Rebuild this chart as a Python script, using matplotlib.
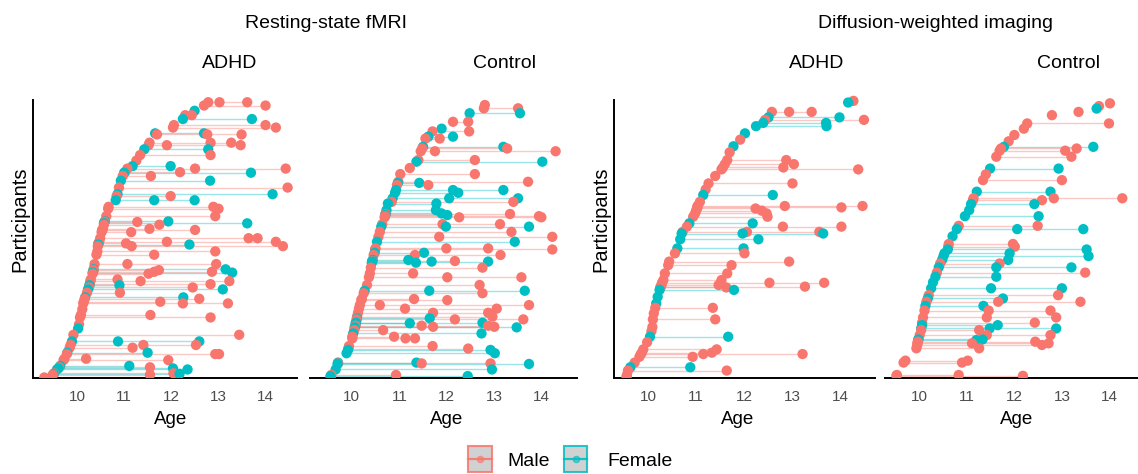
import numpy as np
import matplotlib
matplotlib.use("Agg")
import matplotlib.pyplot as plt
from matplotlib.collections import LineCollection
from matplotlib.patches import Rectangle

plt.rcParams['font.family'] = ['Liberation Sans', 'DejaVu Sans']
nan = float('nan')

MALE_COLOR = '#F8766D'
FEMALE_COLOR = '#00BFC4'

age_ticks = [10, 11, 12, 13, 14]
age_labels = ['10', '11', '12', '13', '14']
group_titles = ['Resting-state fMRI', 'Diffusion-weighted imaging']
panel_titles = ['ADHD', 'Control', 'ADHD', 'Control']
sex_labels = ['Male', 'Female']

# ---------------- Panel 1: Resting-state fMRI, ADHD ----------------
p1_rank = [100.2, 99.0, 97.1, 95.5, 94.1, 91.9, 91.0, 88.9, 88.5, 85.5,
           84.6, 83.1, 81.0, 79.0, 77.0, 76.1, 74.8, 74.6, 73.4, 71.7,
           69.2, 66.8, 66.1, 64.6, 62.2, 61.5, 58.8, 56.9, 56.7, 56.2,
           55.7, 54.2, 53.8, 53.0, 50.8, 49.5, 48.9, 48.5, 47.9, 46.0,
           44.8, 41.4, 39.5, 39.2, 38.6, 38.3, 37.9, 35.8, 35.2, 34.1,
           33.7, 32.9, 32.2, 31.0, 29.3, 28.8, 27.7, 27.1, 25.0, 22.9,
           22.0, 19.5, 18.0, 15.7, 13.3, 12.0, 11.0, 9.2, 8.7, 7.0,
           6.5, 4.4, 3.9, 3.5, 3.1, 1.7, 1.5, 1.2, 0.2]
p1_base = [12.79, 12.70, 12.50, 12.30, 12.25, 12.06, 12.04, 11.66, 11.70, 11.54,
           11.52, 11.43, 11.34, 11.26, 11.18, 11.07, 11.02, 11.00, 10.97, 10.93,
           10.89, 10.86, 10.84, 10.82, 10.67, 10.66, 10.62, 10.59, 10.58, 10.57,
           10.57, 10.55, 10.53, 10.52, 10.49, 10.47, 10.45, 10.45, 10.44, 10.43,
           10.41, 10.37, 10.35, 10.35, 10.34, 10.33, 10.33, 10.29, 10.28, 10.27,
           10.26, 10.25, 10.23, 10.21, 10.17, 10.16, 10.14, 10.13, 10.11, 10.08,
           10.06, 10.04, 10.02, 9.92, 9.89, 9.86, 9.84, 9.79, 9.78, 9.73,
           9.71, 9.64, 9.62, 9.60, 9.57, 9.51, 9.50, 9.48, 9.30]
p1_fu1 = [13.03, 14.01, nan, 12.44, 13.72, 14.01, 14.23, 12.70, 12.77, 12.84,
          11.91, 12.79, 12.84, nan, 11.99, 12.51, 12.19, 13.70, 11.57, 12.83,
          14.48, 14.16, 11.99, 11.64, 12.90, 13.01, 12.94, 11.94, 11.28, 13.62,
          11.75, 11.54, 12.51, 11.15, 13.65, 11.91, 11.04, 12.39, 11.16, 12.94,
          11.64, 11.07, 13.16, 11.74, 11.64, 13.30, 11.52, 10.86, 11.35, 12.84,
          10.90, 12.46, 13.10, 10.91, 12.26, 12.60, 11.77, 12.25, nan, 11.56,
          12.84, nan, nan, 13.45, 10.87, 11.41, 11.18, 11.50, 12.94, 10.19,
          11.94, 11.11, 11.55, 12.04, 12.35, 12.05, 12.18, 11.55, nan]
p1_fu2 = [13.62, nan, nan, nan, nan, nan, nan, nan, 13.50, 13.28,
          13.48, nan, nan, nan, nan, 14.44, nan, nan, nan, nan,
          nan, nan, nan, 12.50, nan, nan, nan, nan, nan, nan,
          nan, nan, nan, nan, 13.84, 14.23, nan, nan, 14.38, nan,
          nan, 12.96, nan, nan, 12.87, nan, nan, nan, 13.24, nan,
          nan, nan, nan, nan, nan, nan, nan, 13.21, nan, nan,
          nan, nan, nan, nan, 12.60, 12.53, nan, nan, 13.02, nan,
          nan, nan, nan, nan, nan, nan, nan, nan, nan]
p1_sex = list("MMFMFMMFMM" "MFMMFMMFMF" "MFMFMMMFMF" "MMMMMMMFMM"
              "MMFMMFMMMM" "FMFMFMMMMM" "MMFMFMMFMM" "MFMFFMFMM")

# ---------------- Panel 2: Resting-state fMRI, Control ----------------
p2_rank = [99.2, 98.0, 96.2, 93.1, 90.6, 89.6, 87.7, 87.0, 84.0, 83.4,
           82.4, 79.2, 78.6, 76.3, 74.1, 71.3, 70.9, 70.1, 68.3, 67.3,
           65.3, 64.0, 63.4, 61.0, 59.8, 59.6, 59.2, 58.8, 58.4, 55.9,
           55.0, 53.1, 51.3, 49.5, 47.1, 46.7, 45.5, 44.7, 42.9, 42.5,
           42.3, 41.9, 40.1, 38.0, 36.6, 33.8, 31.7, 30.8, 28.7, 28.3,
           26.5, 25.2, 23.7, 22.3, 21.7, 21.3, 20.1, 19.9, 19.0, 18.6,
           18.4, 17.4, 16.2, 15.0, 14.4, 11.6, 10.7, 10.2, 9.0, 5.6,
           5.3, 5.1, 3.1, 1.1, 0.7]
p2_base = [12.80, 12.78, 12.48, 12.13, 11.89, 11.70, 11.61, 11.55, 11.50, 11.48,
           11.45, 11.40, 11.36, 11.22, 11.02, 10.98, 10.97, 10.95, 10.93, 10.91,
           10.86, 10.84, 10.76, 10.73, 10.72, 10.71, 10.70, 10.70, 10.69, 10.64,
           10.62, 10.59, 10.56, 10.53, 10.50, 10.49, 10.48, 10.46, 10.44, 10.43,
           10.43, 10.42, 10.40, 10.38, 10.36, 10.32, 10.27, 10.25, 10.21, 10.20,
           10.17, 10.15, 10.13, 10.11, 10.11, 10.10, 10.09, 10.08, 10.08, 10.07,
           10.06, 10.05, 10.03, 10.01, 10.01, 9.94, 9.93, 9.92, 9.89, 9.71,
           9.71, 9.70, 9.66, 9.57, 9.55]
p2_fu1 = [nan, 13.50, 13.54, 12.45, nan, 12.47, 12.13, 11.85, 13.19, 13.27,
          11.75, 12.59, 14.01, nan, 12.59, 13.71, 11.42, 11.61, 12.13, 12.24,
          12.05, 13.40, 11.78, 11.77, 11.89, 13.33, 12.01, 13.94, 12.26, 11.91,
          11.98, 13.36, 11.84, 13.43, 11.99, 14.22, 11.52, 11.33, 11.19, 12.17,
          11.68, 11.35, 12.75, 11.29, 12.01, 12.69, 11.63, 12.75, 11.31, 12.01,
          10.59, 11.12, 11.71, 12.96, 11.64, 12.17, 12.75, 11.22, 11.47, 11.71,
          13.47, 10.66, 12.73, 10.89, 11.13, 11.70, 12.45, 12.92, 13.01, 11.36,
          11.47, 13.73, 12.95, 10.93, 12.44]
p2_fu2 = [nan, nan, nan, nan, nan, nan, nan, nan, nan, nan,
          14.29, nan, nan, nan, nan, nan, nan, nan, 13.19, nan,
          13.50, nan, nan, nan, nan, nan, nan, nan, 13.99, 13.12,
          13.73, nan, 14.22, nan, 12.87, nan, nan, 13.13, nan, nan,
          12.87, nan, nan, nan, 13.57, nan, 13.64, nan, nan, nan,
          13.73, 13.05, 12.87, nan, nan, 13.61, nan, nan, 12.87, 13.00,
          nan, nan, nan, nan, 11.33, nan, nan, nan, nan, nan,
          12.92, nan, nan, nan, nan]
p2_sex = list("MMFMFMFMFM" "MMFMMMFMFF" "FMFFFMFMMM" "FMMFMMFMFM"
              "FFMMMMFMMM" "MMMMFMFFMM" "FMFMMMMFFF" "MFFMF")

# ---------------- Panel 3: Diffusion-weighted imaging, ADHD ----------------
p3_rank = [100.7, 100.1, 96.7, 94.7, 93.8, 92.7, 91.5, 88.9, 86.6, 84.2,
           82.0, 79.2, 77.7, 76.5, 75.8, 73.4, 70.7, 68.5, 66.5, 64.0,
           62.5, 62.0, 61.6, 60.8, 59.8, 58.6, 56.2, 55.0, 53.1, 52.5,
           50.4, 47.1, 45.3, 42.3, 41.0, 38.0, 35.6, 34.6, 33.8, 33.2,
           32.9, 32.0, 29.5, 27.1, 25.5, 23.5, 21.3, 18.5, 17.0, 15.0,
           13.0, 10.4, 9.2, 8.7, 7.7, 5.6, 3.9, 2.7, 1.1, 0.5]
p3_base = [14.28, 14.17, 12.58, 12.51, 12.44, 12.40, 12.25, 12.02, 11.92, 11.78,
           11.70, 11.65, 11.60, 11.56, 11.53, 11.40, 11.26, 11.20, 11.15, 11.08,
           11.03, 11.03, 11.02, 11.00, 10.98, 10.94, 10.86, 10.81, 10.72, 10.70,
           10.67, 10.61, 10.56, 10.44, 10.42, 10.35, 10.32, 10.29, 10.28, 10.26,
           10.26, 10.24, 10.20, 10.17, 10.15, 10.12, 10.10, 10.09, 10.07, 10.04,
           9.98, 9.90, 9.87, 9.85, 9.82, 9.72, 9.63, 9.58, 9.56, 9.55]
p3_fu1 = [nan, nan, 12.94, 13.99, 14.50, 13.71, 13.72, nan, nan, nan,
          nan, 12.88, 13.04, 12.82, 14.38, nan, 13.01, nan, 12.60, nan,
          12.85, 14.03, 12.24, 12.37, 12.47, 12.49, 12.18, 12.81, 12.06, 11.97,
          12.30, 11.99, 12.01, 12.94, 11.74, 11.65, 11.53, 12.53, 11.47, 13.27,
          11.63, 11.79, nan, nan, 11.35, nan, 11.40, nan, nan, 11.67,
          nan, 11.43, 11.33, 11.15, 10.93, nan, 10.88, 11.64, nan, nan]
p3_fu2 = [nan, nan, 13.41, nan, nan, nan, nan, nan, nan, nan,
          nan, nan, nan, nan, nan, nan, nan, nan, nan, nan,
          14.47, nan, nan, nan, nan, nan, nan, 14.03, 13.57, 13.65,
          nan, nan, nan, nan, nan, nan, nan, 13.67, nan, nan,
          nan, nan, nan, nan, nan, nan, nan, nan, nan, nan,
          nan, nan, nan, 13.22, nan, nan, nan, nan, nan, nan]
p3_sex = list("MFMFMFFFMF" "MMMMMMMMFM" "MMMMMMFMMF" "FFMMMMMMMM"
              "MFFFMMMMMF" "MMMMMMFMMM")

# ---------------- Panel 4: Diffusion-weighted imaging, Control ----------------
p4_rank = [99.8, 98.8, 97.9, 96.7, 95.5, 92.5, 90.6, 88.3, 86.0, 84.0,
           83.4, 82.6, 80.4, 76.1, 74.0, 71.9, 67.7, 65.3, 64.6, 63.2,
           61.0, 58.8, 55.3, 54.1, 51.5, 48.7, 47.7, 46.7, 45.3, 44.3,
           42.9, 41.6, 40.2, 38.3, 36.8, 34.8, 32.6, 30.1, 28.9, 27.7,
           26.2, 24.5, 22.0, 20.1, 19.2, 18.0, 17.4, 15.6, 14.0, 13.8,
           13.2, 12.6, 12.0, 10.8, 6.3, 5.6, 1.1, 0.8]
p4_base = [14.01, 13.78, 13.73, 13.35, 12.79, 12.27, 12.20, 12.00, 11.88, 11.78,
           11.72, 11.69, 11.62, 11.49, 11.40, 11.34, 11.21, 11.14, 11.13, 11.09,
           11.05, 10.96, 10.83, 10.79, 10.70, 10.62, 10.61, 10.60, 10.53, 10.51,
           10.48, 10.44, 10.41, 10.37, 10.34, 10.29, 10.25, 10.20, 10.18, 10.15,
           10.13, 10.11, 10.08, 10.06, 10.06, 10.04, 10.04, 10.01, 9.98, 9.98,
           9.97, 9.96, 9.96, 9.94, 9.71, 9.67, 9.53, 9.52]
p4_fu1 = [nan, nan, nan, nan, nan, 13.99, nan, nan, nan, 13.66,
          13.31, 13.07, 13.20, 12.93, nan, 13.00, 12.76, 12.83, 12.58, 12.42,
          nan, 12.51, 12.49, 12.06, nan, 11.97, 12.01, 13.52, 11.90, 13.56,
          11.87, 11.69, 11.62, 13.49, 11.62, nan, 11.51, 12.92, 11.76, 11.66,
          11.35, 11.46, 11.42, 12.43, 11.65, 11.48, 11.26, 11.42, 11.33, 11.20,
          12.44, 11.11, 12.58, 11.26, 11.02, 10.90, 10.83, 12.18]
p4_fu2 = [nan, nan, nan, nan, nan, nan, nan, nan, nan, nan,
          nan, nan, nan, nan, nan, nan, nan, 14.27, nan, nan,
          nan, nan, nan, 13.45, nan, nan, nan, nan, nan, nan,
          nan, nan, 13.20, nan, nan, nan, 13.00, nan, nan, 13.39,
          nan, 12.76, 12.88, nan, nan, 12.88, nan, 12.76, nan, nan,
          nan, 12.72, nan, nan, nan, nan, nan, nan]
p4_sex = list("MMFMMMMMMF" "MMMFMMFMMF" "FFMFFMMFFF" "FMFMFFFMFM"
              "FMMMFFMMFF" "MMMMMMMM")

# ---------------- Figure ----------------
W, H = 1138, 474
fig = plt.figure(figsize=(W / 100, H / 100), dpi=100)

AX_BOTTOM = 378.0
PX_PER_RANK = 2.752
Y_TOP = 103.0
AX_TOP = AX_BOTTOM - Y_TOP * PX_PER_RANK


def px_axes(left, right, top, bottom):
    return fig.add_axes([left / W, 1 - bottom / H, (right - left) / W, (bottom - top) / H])


panels = [
    (p1_rank, p1_base, p1_fu1, p1_fu2, p1_sex),
    (p2_rank, p2_base, p2_fu1, p2_fu2, p2_sex),
    (p3_rank, p3_base, p3_fu1, p3_fu2, p3_sex),
    (p4_rank, p4_base, p4_fu1, p4_fu2, p4_sex),
]
layout = [
    (33, 297, (9.06, 14.68), True, 171, 230),
    (310, 577, (9.12, 14.74), False, 447, 504),
    (614, 875, (9.29, 14.73), True, 738, 817),
    (885, 1138, (9.28, 14.60), False, 1017, 1068),
]

for i, ((rank, base, fu1, fu2, sex), (l, r, xlim, yaxis, age_x, title_x)) in enumerate(zip(panels, layout)):
    ax = px_axes(l, r, AX_TOP, AX_BOTTOM)
    ax.set_xlim(*xlim)
    ax.set_ylim(0, Y_TOP)
    ax.patch.set_visible(False)
    for s in ['top', 'right']:
        ax.spines[s].set_visible(False)
    ax.spines['bottom'].set_linewidth(1.4)
    ax.spines['bottom'].set_color('black')
    if yaxis:
        ax.spines['left'].set_linewidth(1.4)
        ax.spines['left'].set_color('black')
        ax.spines['left'].set_bounds(0, 101)
    else:
        ax.spines['left'].set_visible(False)
    ax.set_yticks([])
    ax.set_xticks(age_ticks)
    ax.set_xticklabels(age_labels)
    ax.tick_params(axis='x', length=0, pad=8.5, labelsize=11, labelcolor='#4D4D4D')

    cols = [MALE_COLOR if s == 'M' else FEMALE_COLOR for s in sex]
    segs, seg_cols = [], []
    xs, ys, cs = [], [], []
    for y, b, f1, f2, c in zip(rank, base, fu1, fu2, cols):
        ends = [v for v in (f1, f2) if not np.isnan(v)]
        if ends:
            segs.append([(b, y), (max(ends), y)])
            seg_cols.append(c)
        for v in [b] + ends:
            xs.append(v)
            ys.append(y)
            cs.append(c)
    lc = LineCollection(segs, colors=seg_cols, linewidths=1.0, alpha=0.4, zorder=2)
    ax.add_collection(lc)
    ax.scatter(xs, ys, s=55, c=cs, edgecolors='none', zorder=3)

    fig.text(age_x / W, 1 - 424 / H, 'Age', fontsize=13.5, ha='center', va='baseline')
    fig.text(title_x / W, 1 - 68 / H, panel_titles[i], fontsize=14, ha='center', va='baseline')
    if yaxis:
        fig.text((l - 13.5) / W, 1 - 219 / H, 'Participants', fontsize=14.5, rotation=90,
                 ha='center', va='center')

fig.text(326 / W, 1 - 27.5 / H, group_titles[0], fontsize=14, ha='center', va='baseline')
fig.text(935 / W, 1 - 28 / H, group_titles[1], fontsize=14, ha='center', va='baseline')

# ---------------- Legend ----------------
lax = fig.add_axes([0, 0, 1, 1])
lax.set_xlim(0, W)
lax.set_ylim(H, 0)
lax.axis('off')
for x0, col, lab, tx in [(468.5, MALE_COLOR, sex_labels[0], 507),
                         (564, FEMALE_COLOR, sex_labels[1], 607)]:
    lax.add_patch(Rectangle((x0, 445.5), 23.5, 26.5, facecolor='#C9C9C9', alpha=0.85,
                            edgecolor='none'))
    lax.add_patch(Rectangle((x0, 445.5), 23.5, 26.5, facecolor='none', edgecolor=col,
                            linewidth=1.5, alpha=0.85))
    lax.plot([x0, x0 + 23.5], [458.5, 458.5], color=col, lw=1.6, alpha=0.9)
    lax.plot([x0 + 11.75], [458.5], 'o', color=col, markersize=4.5, alpha=0.6)
    lax.text(tx, 462, lab, fontsize=14, ha='left', va='center')

fig.savefig('out.png', dpi=100)
